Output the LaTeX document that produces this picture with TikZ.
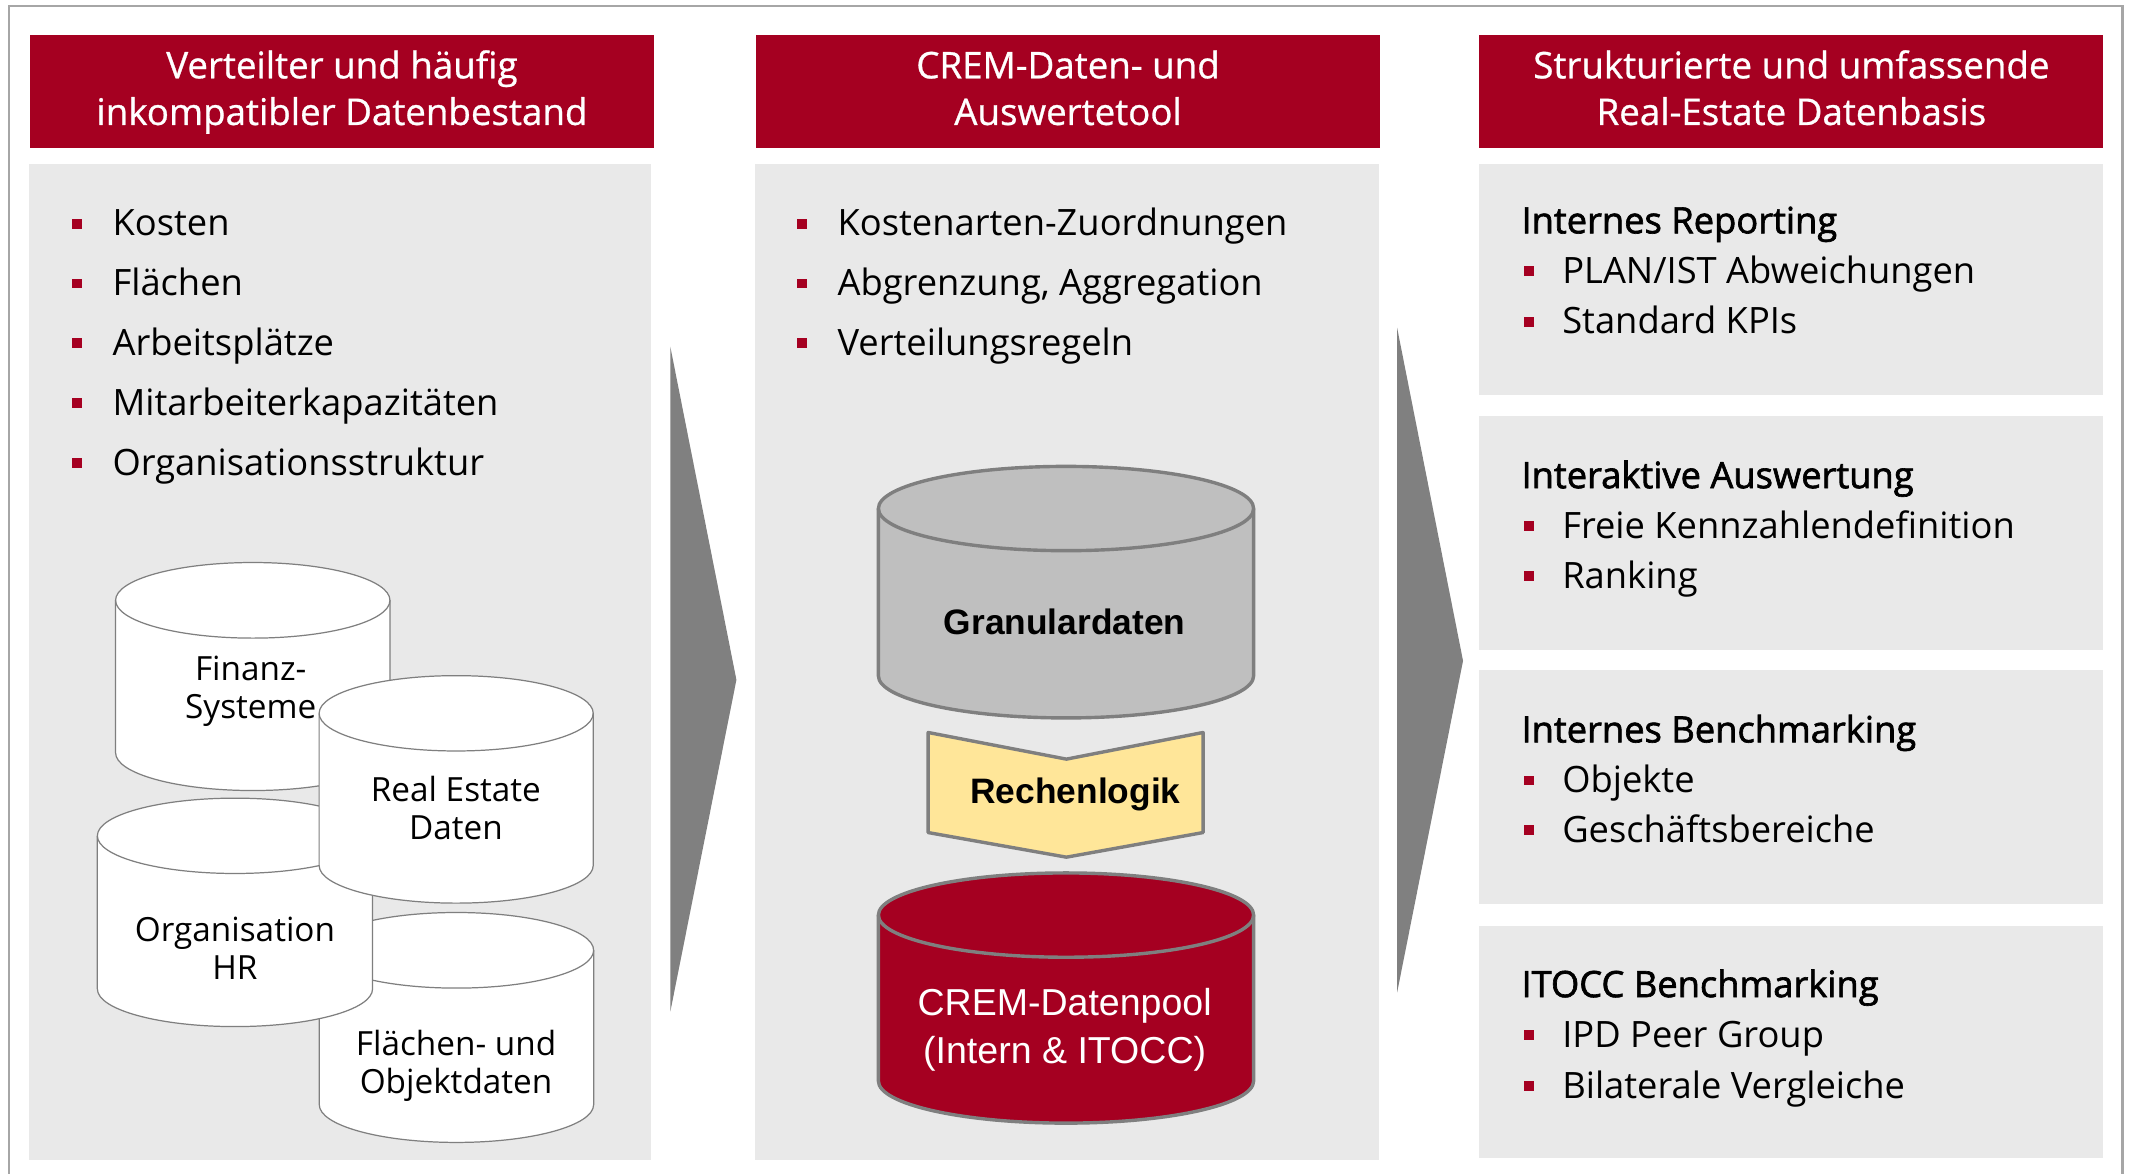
\documentclass[tikz,border=0pt]{standalone}
\usepackage{fontspec}
\setmainfont{Open Sans}
\newfontfamily\headfont[FakeBold=0.8]{Open Sans}
\newfontfamily\titlefont[FakeBold=1.8]{Open Sans}
\newfontfamily\arialfont{Liberation Sans}

\definecolor{crem}{HTML}{A50021}
\definecolor{panelgray}{HTML}{E9E9E9}
\definecolor{arrowgray}{HTML}{808080}
\definecolor{granular}{HTML}{BFBFBF}
\definecolor{rechen}{HTML}{FFE699}
\definecolor{outline}{HTML}{7F7F7F}
\definecolor{framegray}{HTML}{A6A6A6}

% database drum: centre x, top-face y, bottom-face y, x radius, y radius, fill, stroke options
\newcommand\drum[7]{%
  \filldraw[fill=#6, #7] (#1-#4, #2) -- (#1-#4, #3)
    arc[start angle=180, end angle=360, x radius=#4pt, y radius=#5pt]
    -- (#1+#4, #2)
    arc[start angle=0, end angle=180, x radius=#4pt, y radius=#5pt] -- cycle;
  \draw[#7] (#1+#4, #2) arc[start angle=0, end angle=-180, x radius=#4pt, y radius=#5pt];
}

% bullet item: name, square x, text x, baseline y, text
\newcommand\bulitem[5]{%
  \node[bulletsq] (#1sq) at (#2, #4-9) {};
  \node[bodytext] (#1) at (#3, #4) {#5};
}

% two-line labels are placed by the baseline of their last line
\tikzset{
  every node/.style={inner sep=0pt, outer sep=0pt},
  headbox/.style={fill=crem, minimum width=459pt, minimum height=82.6pt},
  headtext/.style={anchor=base, align=center, text=white,
    font=\headfont\fontsize{27}{34.3}\selectfont},
  panel/.style={fill=panelgray},
  bodytext/.style={anchor=base west, text=black,
    font=\fontsize{26.7}{32}\selectfont},
  titletext/.style={anchor=base west, text=black,
    font=\titlefont\fontsize{26.7}{32}\selectfont},
  bulletsq/.style={fill=crem, minimum width=7.3pt, minimum height=7.3pt},
  chevron/.style={fill=arrowgray},
  smalldb/.style={draw=outline, line width=0.9pt, line join=round},
  bigdb/.style={draw=outline, line width=2.5pt, line join=round},
  dblabel/.style={anchor=base, align=center, text=black,
    font=\fontsize{24.5}{28}\selectfont},
  biglabel/.style={anchor=base, align=center,
    font=\arialfont\fontsize{27.6}{35.4}\selectfont},
}

\begin{document}
\begin{tikzpicture}[x=1pt, y=-1pt]
\useasboundingbox (0,0) rectangle (1568,863);

% outer frame, open at the bottom
\draw[framegray, line width=1.5pt] (6.9,880) -- (6.9,4.4) -- (1561,4.4) -- (1561,880);

% column headers
\node[headbox] (h1) at (251.5,67.3) {};
\node[headbox] (h2) at (785.5,67.3) {};
\node[headbox] (h3) at (1317.5,67.3) {};
\node[headtext] (h1t) at (251.5,91.9) {Verteilter und häufig\\inkompatibler Datenbestand};
\node[headtext] (h2t) at (785.5,91.9) {CREM-Daten- und\\Auswertetool};
\node[headtext] (h3t) at (1317.5,91.9) {Strukturierte und umfassende\\Real-Estate Datenbasis};

% column panels
\node[panel, minimum width=458pt, minimum height=732.4pt] (pl) at (250,486.8) {};
\node[panel, minimum width=459pt, minimum height=732.4pt] (pm) at (784.5,486.8) {};
\node[panel, minimum width=459pt, minimum height=170.2pt] (pr1) at (1317.5,205.7) {};
\node[panel, minimum width=459pt, minimum height=172pt] (pr2) at (1317.5,392) {};
\node[panel, minimum width=459pt, minimum height=172pt] (pr3) at (1317.5,579) {};
\node[panel, minimum width=459pt, minimum height=171pt] (pr4) at (1317.5,766.5) {};

% flow chevrons between the columns
\fill[chevron] (493,255) -- (541.6,500) -- (493,744) -- cycle;
\fill[chevron] (1027.5,241) -- (1076,486) -- (1027.5,730) -- cycle;

% left column: data sources
\bulitem{l1}{56.4}{82.8}{173.5}{Kosten}
\bulitem{l2}{56.4}{82.8}{217.5}{Flächen}
\bulitem{l3}{56.4}{82.8}{261.5}{Arbeitsplätze}
\bulitem{l4}{56.4}{82.8}{305.5}{Mitarbeiterkapazitäten}
\bulitem{l5}{56.4}{82.8}{349.5}{Organisationsstruktur}

\drum{335.7}{698.9}{812.4}{100.9}{27.8}{white}{smalldb}
\drum{185.9}{441.5}{553.6}{100.9}{27.8}{white}{smalldb}
\drum{172.8}{614.7}{727.3}{101.2}{27.7}{white}{smalldb}
\drum{335.5}{524.6}{636.5}{100.8}{27.7}{white}{smalldb}
\node[dblabel] (fin) at (184.4,528.2) {Finanz-\\Systeme};
\node[dblabel] (org) at (172.8,720.1) {Organisation\\HR};
\node[dblabel] (red) at (335.3,617.1) {Real Estate\\Daten};
\node[dblabel] (fla) at (335.4,803.9) {Flächen- und\\Objektdaten};

% middle column: tool
\bulitem{m1}{590}{616}{173.5}{Kostenarten-Zuordnungen}
\bulitem{m2}{590}{616}{217.5}{Abgrenzung, Aggregation}
\bulitem{m3}{590}{616}{261.5}{Verteilungsregeln}

\drum{784}{374}{497}{138}{31}{granular}{bigdb}
\node[biglabel, font=\arialfont\bfseries\fontsize{26}{32}\selectfont] (gran) at (783,467) {Granulardaten};

\filldraw[fill=rechen, bigdb] (682.6,538.7) -- (784.3,558.3) -- (884.8,538.7)
  -- (884.8,612.3) -- (784.3,630.4) -- (682.6,612.3) -- cycle;
\node[biglabel, font=\arialfont\bfseries\fontsize{26}{32}\selectfont] (rech) at (791,591.2) {Rechenlogik};

\drum{784}{673}{795}{138}{31}{crem}{bigdb}
\node[biglabel, text=white] (pool) at (783,782.4) {CREM-Datenpool\\(Intern \& ITOCC)};

% right column: results
\node[titletext] (r1) at (1119,171.6) {Internes Reporting};
\bulitem{r1a}{1124.5}{1149}{208.3}{PLAN/IST Abweichungen}
\bulitem{r1b}{1124.5}{1149}{245.6}{Standard KPIs}

\node[titletext] (r2) at (1119,359) {Interaktive Auswertung};
\bulitem{r2a}{1124.5}{1149}{395.8}{Freie Kennzahlendefinition}
\bulitem{r2b}{1124.5}{1149}{432.6}{Ranking}

\node[titletext] (r3) at (1119,546) {Internes Benchmarking};
\bulitem{r3a}{1124.5}{1149}{583}{Objekte}
\bulitem{r3b}{1124.5}{1149}{619.6}{Geschäftsbereiche}

\node[titletext] (r4) at (1119,733.3) {ITOCC Benchmarking};
\bulitem{r4a}{1124.5}{1149}{770.3}{IPD Peer Group}
\bulitem{r4b}{1124.5}{1149}{807.6}{Bilaterale Vergleiche}
\end{tikzpicture}
\end{document}
